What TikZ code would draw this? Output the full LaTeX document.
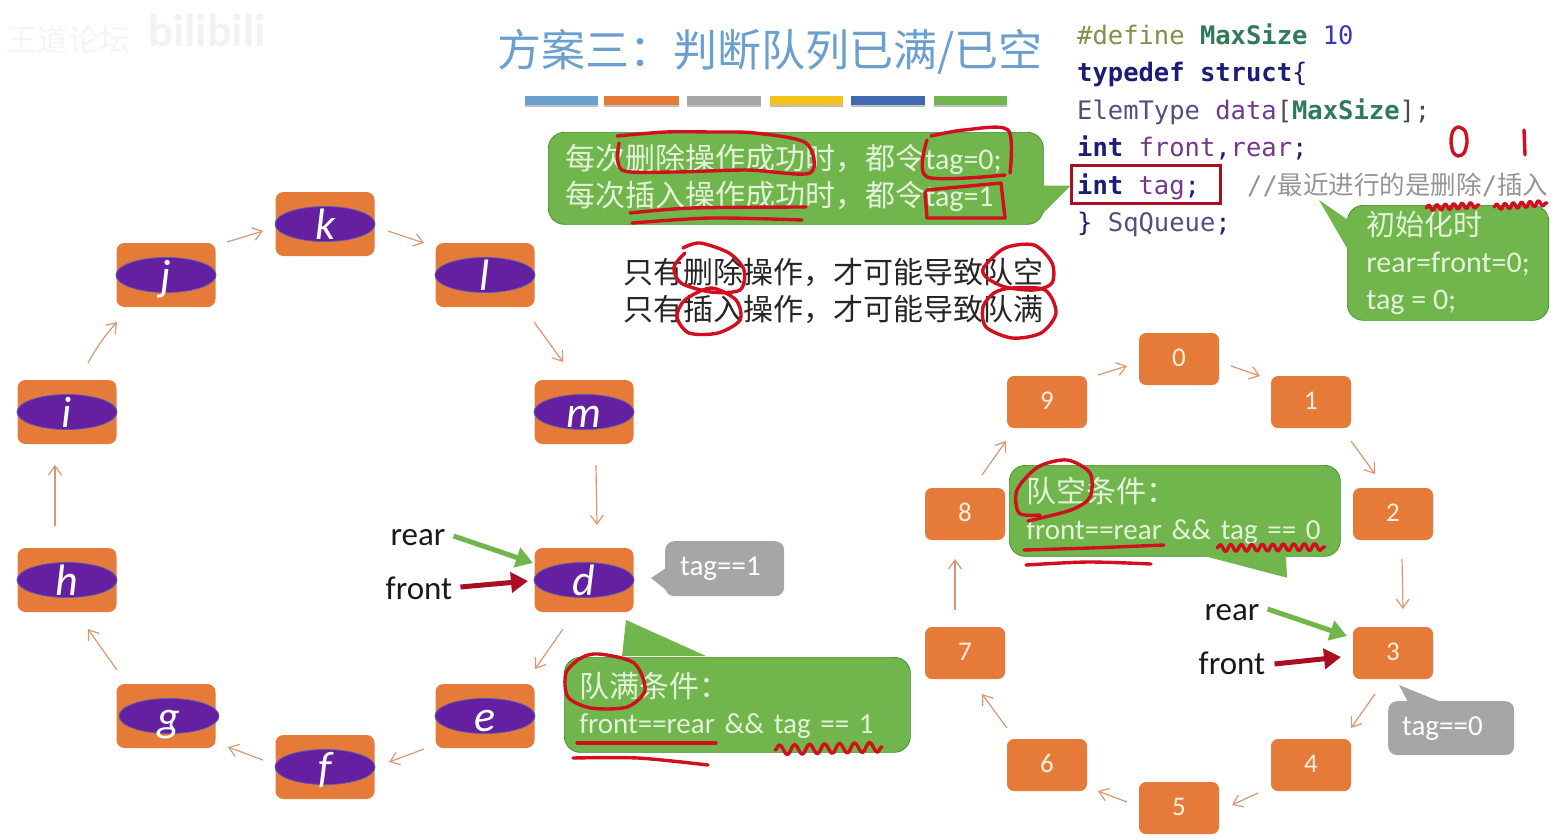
\documentclass[tikz,border=0pt]{standalone}
\usepackage{fontspec}
\setmainfont{Carlito}
\setmonofont{DejaVu Sans Mono}
\newfontfamily\cjk{Noto Sans CJK SC}
\usepackage{xcolor}
\usetikzlibrary{arrows.meta, shapes.geometric, decorations.pathmorphing}
\definecolor{cellorange}{HTML}{E67A38}
\definecolor{ovalpurple}{HTML}{6420A0}
\definecolor{ovalline}{HTML}{5A5AAF}
\definecolor{bubblegreen}{HTML}{70B64C}
\definecolor{bubblegray}{HTML}{A6A6A6}
\definecolor{palegreen}{HTML}{E4F2DA}
\definecolor{ringline}{HTML}{DB9670}
\definecolor{inkred}{HTML}{D20F1E}
\definecolor{darkred}{HTML}{A80F22}
\definecolor{titleblue}{HTML}{6A9FD0}
\definecolor{baryellow}{HTML}{F2C318}
\definecolor{barblue}{HTML}{4169B0}
\definecolor{cdefine}{HTML}{7F9048}
\definecolor{cname}{HTML}{2F7A58}
\definecolor{cnum}{HTML}{3A35C8}
\definecolor{ckey}{HTML}{1C1C78}
\definecolor{ctype}{HTML}{50507F}
\definecolor{cvar}{HTML}{74388A}

\begin{document}
\begin{tikzpicture}[x=1pt, y=-1pt, >={Straight Barb[length=9pt, width=13pt]},
  cell/.style={fill=cellorange, rounded corners=8pt, inner sep=0pt, minimum width=99pt, minimum height=64pt},
  oval/.style={ellipse, fill=ovalpurple, draw=ovalline, line width=0.8pt, inner sep=0pt, minimum width=100pt, minimum height=35pt},
  letter/.style={text=white, inner sep=0pt, text height=32pt, text depth=2pt, font=\fontsize{44}{44}\selectfont\itshape},
  num/.style={fill=cellorange, rounded corners=7pt, minimum width=80pt, minimum height=52pt, inner sep=0pt,
    text=orange!12, text height=17pt, text depth=3pt, font=\fontsize{27}{27}\selectfont},
  ring/.style={->, draw=ringline, line width=1.2pt},
  bubble/.style={fill=bubblegreen, draw=green!35!black!45!bubblegreen, line width=0.7pt, rounded corners=16pt, anchor=north west,
    text=palegreen, align=left, inner xsep=16pt, inner ysep=0pt},
  tail/.style={fill=bubblegreen},
  graybubble/.style={fill=bubblegray, rounded corners=9pt, anchor=north west, inner ysep=0pt, text=white, align=left,
    font=\fontsize{29}{29}\selectfont},
  grayTail/.style={fill=bubblegray},
  ptr/.style={font=\fontsize{33}{33}\selectfont, inner sep=0pt, text=black!90},
  reararrow/.style={draw=bubblegreen, line width=5pt, -{Triangle[length=17pt, width=20pt]}},
  frontarrow/.style={draw=darkred, line width=5pt, -{Triangle[length=17pt, width=20pt]}},
  bar/.style={inner sep=0pt, minimum height=9pt, preaction={fill=black!25, transform canvas={yshift=-2pt}}},
  ink/.style={draw=inkred, line width=3.4pt, line cap=round, line join=round},
  wavy/.style={ink, decorate, decoration={snake, amplitude=#1, segment length=3*#1}}]
  \useasboundingbox (0,0) rectangle (1566,839);

  % watermark
  \node[text=black!4, inner sep=0pt, font=\fontsize{31}{31}\selectfont\cjk] (mark) at (68,40) {王道论坛};
  \node[text=black!5, inner sep=0pt, font=\fontsize{46}{46}\selectfont\bfseries] (logo) at (207,31) {bilibili};

  % title
  \node[text=titleblue, inner sep=0pt, font=\fontsize{44}{44}\selectfont\cjk] (title) at (770,52) {方案三：判断队列已满/已空};
  \node[bar, fill=titleblue, minimum width=73pt] (bar1) at (561.5,100) {};
  \node[bar, fill=cellorange, minimum width=75pt] (bar2) at (641.5,100) {};
  \node[bar, fill=bubblegray, minimum width=74pt] (bar3) at (724,100) {};
  \node[bar, fill=baryellow, minimum width=73pt] (bar4) at (806.5,100) {};
  \node[bar, fill=barblue, minimum width=74pt] (bar5) at (888,100) {};
  \node[bar, fill=bubblegreen, minimum width=73pt] (bar6) at (970.5,100) {};

  % notes
  \node[bubble, inner xsep=17pt, text width=461pt, minimum height=92pt, font=\fontsize{30}{37}\selectfont] (note) at (548,132)
    {{\cjk 每次删除操作成功时，都令}tag=0;\\{\cjk 每次插入操作成功时，都令}tag=1};
  \fill[tail] ([shift={(-1,-39)}]note.south east) -- ([shift={(27,-39)}]note.south east) -- ([shift={(-1,-11)}]note.south east) -- cycle;
  \node[text=black!85, align=left, inner sep=0pt, font=\fontsize{30}{37}\selectfont\cjk] (only) at (833,291)
    {只有删除操作，才可能导致队空\\只有插入操作，才可能导致队满};

  % struct
  \node[anchor=north west, align=left, inner sep=0pt, font=\fontsize{25.5}{37.4}\selectfont\ttfamily] (code) at (1077,23.5)
    {\textcolor{cdefine}{\#define} \textcolor{cname}{\bfseries MaxSize} \textcolor{cnum}{10}\\
     \textcolor{ckey}{\bfseries typedef struct}\textcolor{ckey}{\{}\\
     \textcolor{ctype}{ElemType} \textcolor{cvar}{data}\textcolor{black!70}{[}\textcolor{cname}{\bfseries MaxSize}\textcolor{black!70}{];}\\
     \textcolor{ckey}{\bfseries int} \textcolor{cvar}{front}\textcolor{ckey}{,}\textcolor{cvar}{rear}\textcolor{ckey}{;}\\
     \textcolor{ckey}{\bfseries int} \textcolor{cvar}{tag}\textcolor{ckey}{;}\\
     \textcolor{ckey}{\}} \textcolor{ctype}{SqQueue}\textcolor{ckey}{;}};
  \node[anchor=west, inner sep=0pt, text=black!42, font=\fontsize{25.5}{25.5}\selectfont] (comment) at (1247,185)
    {\ttfamily//{\cjk 最近进行的是删除}/{\cjk 插入}};
  \node[draw=darkred, line width=3pt, minimum width=149pt, minimum height=38pt, inner sep=0pt] (tagbox) at (1145.5,184) {};
  \node[bubble, minimum width=200pt, minimum height=115pt, inner xsep=19pt, font=\fontsize{30}{37}\selectfont] (init) at (1347,205)
    {{\cjk\fontsize{29}{37}\selectfont 初始化时}\\rear=front=0;\\tag = 0;};
  \fill[tail] ([shift={(1,15)}]init.north west) -- ([shift={(-28,-5)}]init.north west) -- ([shift={(1,45)}]init.north west) -- cycle;

  % left ring
  \node[cell] (boxk) at (325,224) {};
  \node[cell] (boxj) at (166,275) {};
  \node[cell] (boxl) at (485,275) {};
  \node[cell] (boxi) at (67,412) {};
  \node[cell] (boxm) at (584,412) {};
  \node[cell] (boxh) at (67,580) {};
  \node[cell] (boxd) at (584,580) {};
  \node[cell] (boxg) at (166,716) {};
  \node[cell] (boxe) at (485,716) {};
  \node[cell] (boxf) at (325,767) {};
  \node[oval, label={[letter]center:k}] (ovalk) at (boxk) {};
  \node[oval, label={[letter]center:j}] (ovalj) at (boxj) {};
  \node[oval, label={[letter]center:l}] (ovall) at (boxl) {};
  \node[oval, label={[letter]center:i}] (ovali) at (boxi) {};
  \node[oval, label={[letter]center:m}] (ovalm) at (boxm) {};
  \node[oval, label={[letter]center:h}] (ovalh) at (boxh) {};
  \node[oval, label={[letter]center:d}] (ovald) at (boxd) {};
  \node[oval, label={[letter]center:g}] (ovalg) at ([xshift=3pt]boxg.center) {};
  \node[oval, label={[letter]center:e}] (ovale) at (boxe) {};
  \node[oval, label={[letter]center:f}] (ovalf) at (boxf) {};
  \draw[ring] ([shift={(21,-49)}]boxi.center) to[bend left=6] ([shift={(-49,47)}]boxj.center);
  \draw[ring] ([shift={(61,-33)}]boxj.center) -- ([shift={(-62,7)}]boxk.center);
  \draw[ring] ([shift={(63,7)}]boxk.center) -- ([shift={(-61,-32)}]boxl.center);
  \draw[ring] ([shift={(49,47)}]boxl.center) -- ([shift={(-21,-50)}]boxm.center);
  \draw[ring] ([shift={(12,53)}]boxm.center) -- ([shift={(13,-55)}]boxd.center);
  \draw[ring] ([shift={(-21,49)}]boxd.center) -- ([shift={(50,-47)}]boxe.center);
  \draw[ring] ([shift={(-61,33)}]boxe.center) -- ([shift={(64,-5)}]boxf.center);
  \draw[ring] ([shift={(-62,-7)}]boxf.center) -- ([shift={(62,31)}]boxg.center);
  \draw[ring] ([shift={(-49,-46)}]boxg.center) -- ([shift={(21,49)}]boxh.center);
  \draw[ring] ([shift={(-12,-54)}]boxh.center) -- ([shift={(-12,53)}]boxi.center);

  \node[ptr] (rearL) at (418,538) {rear};
  \node[ptr] (frontL) at (419,588) {front};
  \draw[reararrow] ([shift={(8,-2)}]rearL.east) -- ([shift={(-51,-17)}]boxd.center);
  \draw[frontarrow] ([shift={(8,-1)}]frontL.east) -- ([shift={(-56,1)}]boxd.center);
  \node[graybubble, inner xsep=15pt, text width=89pt, minimum height=55pt] (tagone) at (665,541) {tag==1};
  \fill[grayTail] ([shift={(1,27)}]tagone.north west) -- ([shift={(-14,37)}]tagone.north west) -- ([shift={(1,49)}]tagone.north west) -- cycle;
  \node[bubble, inner xsep=15pt, text width=316pt, minimum height=95pt, font=\fontsize{29}{36}\selectfont] (full) at (564,657)
    {{\cjk\fontsize{30}{36}\selectfont 队满条件：}\\front==rear \&\& tag == 1};
  \fill[tail] ([xshift=58pt, yshift=1pt]full.north west) -- ([xshift=62pt, yshift=37pt]full.north west) -- ([xshift=142pt, yshift=1pt]full.north west) -- cycle;

  % right ring
  \node[num] (cell0) at (1179,359) {0};
  \node[num] (cell1) at (1311,402) {1};
  \node[num] (cell2) at (1393,514) {2};
  \node[num] (cell3) at (1393,653) {3};
  \node[num] (cell4) at (1311,765) {4};
  \node[num] (cell5) at (1179,808) {5};
  \node[num] (cell6) at (1047,765) {6};
  \node[num] (cell7) at (965,653) {7};
  \node[num] (cell8) at (965,514) {8};
  \node[num] (cell9) at (1047,402) {9};
  \draw[ring] ([shift={(51,-27)}]cell9.center) -- ([shift={(-52,7)}]cell0.center);
  \draw[ring] ([shift={(52,7)}]cell0.center) -- ([shift={(-51,-26)}]cell1.center);
  \draw[ring] ([shift={(40,39)}]cell1.center) -- ([shift={(-18,-40)}]cell2.center);
  \draw[ring] ([shift={(9,45)}]cell2.center) -- ([shift={(10,-44)}]cell3.center);
  \draw[ring] ([shift={(-18,41)}]cell3.center) -- ([shift={(40,-37)}]cell4.center);
  \draw[ring] ([shift={(-53,28)}]cell4.center) -- ([shift={(53,-3)}]cell5.center);
  \draw[ring] ([shift={(-52,-6)}]cell5.center) -- ([shift={(51,26)}]cell6.center);
  \draw[ring] ([shift={(-40,-37)}]cell6.center) -- ([shift={(17,41)}]cell7.center);
  \draw[ring] ([shift={(-10,-43)}]cell7.center) -- ([shift={(-10,45)}]cell8.center);
  \draw[ring] ([shift={(17,-39)}]cell8.center) -- ([shift={(-41,39)}]cell9.center);

  \node[ptr] (rearR) at (1232,613) {rear};
  \node[ptr] (frontR) at (1232,663) {front};
  \draw[reararrow] ([shift={(8,-4)}]rearR.east) -- ([shift={(-46,-17)}]cell3.center);
  \draw[frontarrow] ([shift={(9,1)}]frontR.east) -- ([shift={(-52,4)}]cell3.center);
  \node[graybubble, inner xsep=14pt, text width=98pt, minimum height=54pt] (tagzero) at (1388,701) {tag==0};
  \fill[grayTail] ([shift={(20,1)}]tagzero.north west) -- ([shift={(11,-16)}]tagzero.north west) -- ([shift={(53,1)}]tagzero.north west) -- cycle;
  \node[bubble, inner xsep=17pt, text width=297pt, minimum height=91pt, font=\fontsize{29}{37}\selectfont] (empty) at (1009,465)
    {{\cjk\fontsize{30}{37}\selectfont 队空条件：}\\front==rear \&\& tag == 0};
  \fill[tail] ([shift={(194,-1)}]empty.north west |- empty.south) -- ([shift={(278,21)}]empty.north west |- empty.south) -- ([shift={(277,-1)}]empty.north west |- empty.south) -- cycle;

  % red marks
  \draw[ink] plot[smooth] coordinates {(617,136) (666,132) (711,132) (755,133) (806,143) (810,173) (747,170) (674,172) (622,170) (619,143)};
  \draw[ink] plot[smooth] coordinates {(931,136) (964,130) (1008,130) (1010,173)};
  \draw[ink] plot[smooth] coordinates {(927,140) (927,177) (1005,175)};
  \draw[ink] (927,190) -- (1001,183) -- (1005,218) -- (927,218) -- (925,192);
  \draw[ink] plot[smooth] coordinates {(630,213) (692,208) (806,207)};
  \draw[ink] plot[smooth] coordinates {(632,223) (711,218) (802,220)};
  \draw[ink] plot[smooth] coordinates {(683,248) (700,243) (729,253) (744,270) (740,290) (711,292) (681,283) (674,267) (685,253)};
  \draw[ink] plot[smooth cycle] coordinates {(685,300) (711,288) (736,300) (740,320) (718,333) (689,333) (677,317)};
  \draw[ink] plot[smooth cycle] coordinates {(984,267) (1005,248) (1034,245) (1052,263) (1052,283) (1034,290) (1005,287) (986,277)};
  \draw[ink] plot[smooth cycle] coordinates {(1012,288) (1045,290) (1056,313) (1041,333) (1012,338) (986,327) (983,307) (994,293)};
  \draw[ink] plot[smooth cycle] coordinates {(1458,127) (1465,131) (1467,142) (1464,153) (1458,156) (1453,152) (1451,141) (1453,131)};
  \draw[ink] (1524,130) -- (1525,155);
  \draw[wavy=2.8pt] (1426,208) -- (1479,205);
  \draw[wavy=2.8pt] (1494,207) -- (1547,203);
  \draw[ink] plot[smooth cycle] coordinates {(599,654) (634,663) (645,690) (627,707) (591,708) (568,697) (566,673) (581,658)};
  \draw[ink] (577,743) -- (716,743);
  \draw[ink] plot[smooth] coordinates {(573,758) (638,758) (708,765)};
  \draw[wavy=5pt] (775,750) -- (882,747);
  \draw[ink] plot[smooth] coordinates {(1040,515) (1019,513) (1017,490) (1038,467) (1067,460) (1090,473) (1090,497) (1071,510) (1028,521)};
  \draw[ink] plot[smooth] coordinates {(1024,550) (1090,548) (1164,545)};
  \draw[ink] plot[smooth] coordinates {(1026,565) (1088,562) (1151,564)};
  \draw[wavy=3.5pt] (1217,548) -- (1325,547);
\end{tikzpicture}
\end{document}
